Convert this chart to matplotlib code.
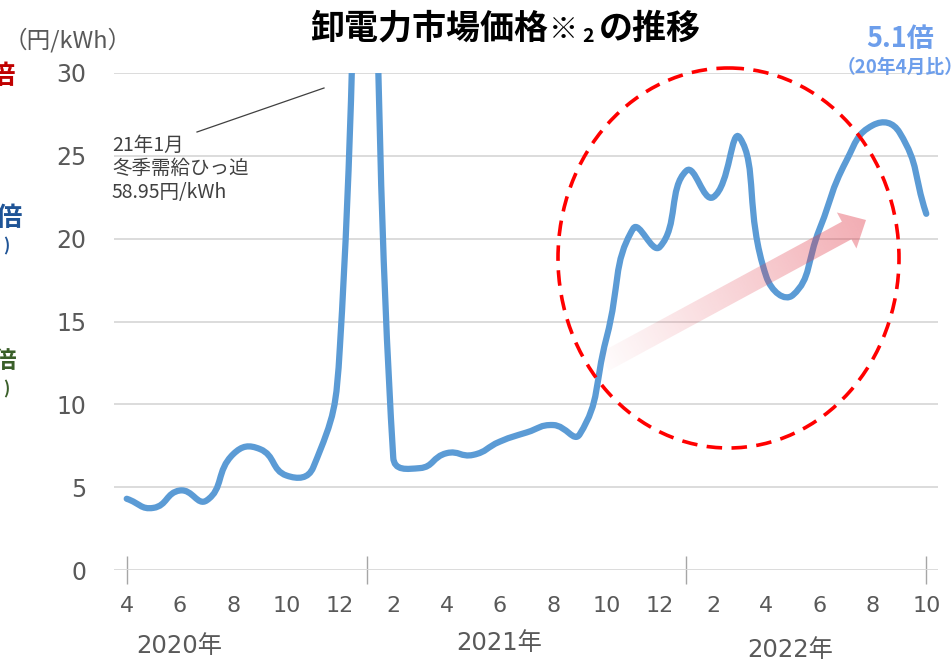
import numpy as np
import matplotlib
matplotlib.use("Agg")
import matplotlib.pyplot as plt
from matplotlib.path import Path
from matplotlib.patches import PathPatch, Ellipse, Polygon

# ---------------- data ----------------
months = [4, 5, 6, 7, 8, 9, 10, 11, 12,
          1, 2, 3, 4, 5, 6, 7, 8, 9, 10, 11, 12,
          1, 2, 3, 4, 5, 6, 7, 8, 9, 10]
prices = [4.3, 3.75, 4.8, 4.2, 7.0, 7.3, 5.7, 6.2, 13.5,
          58.95, 6.8, 6.15, 7.05, 6.95, 7.75, 8.3, 8.75, 8.2, 14.0, 20.6, 19.5,
          24.1, 22.5, 26.1, 17.7, 16.6, 20.6, 24.7, 26.85, 26.4, 21.5]
years = ["2020年", "2021年", "2022年"]
year_start_idx = [0, 9, 21, 30]
y_ticks = [0, 5, 10, 15, 20, 25, 30]

JP = ["Noto Sans CJK JP", "DejaVu Sans"]
NUM = ["DejaVu Sans", "Noto Sans CJK JP"]

W, H = 953, 660
fig = plt.figure(figsize=(W / 100, H / 100), dpi=100)
fig.patch.set_facecolor("white")

ax = fig.add_axes([114 / W, (H - 570) / H, 824 / W, 497 / H])
n = len(prices)
xs = np.arange(n)
ax.set_xlim(-0.477, 30.44)
ax.set_ylim(0, 30)
for s in ax.spines.values():
    s.set_visible(False)
ax.set_yticks(y_ticks)
ax.set_yticklabels([str(v) for v in y_ticks], fontsize=17, color="#595959", family=NUM)
ax.tick_params(axis="y", length=0, pad=20)
ax.yaxis.grid(True, color="#d9d9d9", lw=1.3)
ax.set_axisbelow(True)

maj = list(range(0, n, 2))
ax.set_xticks(maj)
ax.set_xticklabels([str(months[i]) for i in maj], fontsize=16, color="#595959", family=NUM)
ax.tick_params(axis="x", which="major", length=0, pad=19)
ax.xaxis.remove_overlapping_locs = False
ax.set_xticks(year_start_idx, minor=True)
ax.tick_params(axis="x", which="minor", length=20, direction="inout", color="#a6a6a6", width=1)


def smooth_path(axis, x, y, t=0.5):
    P = axis.transData.transform(np.column_stack([x, y]))
    m = len(P)
    cin = np.zeros_like(P)
    cout = np.zeros_like(P)
    for i in range(m):
        p0 = P[max(i - 1, 0)]
        p2 = P[min(i + 1, m - 1)]
        d01 = np.hypot(*(P[i] - p0))
        d12 = np.hypot(*(p2 - P[i]))
        tot = d01 + d12
        T = p2 - p0
        cin[i] = P[i] - T * t * d01 / tot
        cout[i] = P[i] + T * t * d12 / tot
    verts = [P[0]]
    codes = [Path.MOVETO]
    for i in range(m - 1):
        verts += [cout[i], cin[i + 1], P[i + 1]]
        codes += [Path.CURVE4] * 3
    verts = axis.transData.inverted().transform(np.array(verts))
    return Path(verts, codes)


line = PathPatch(smooth_path(ax, xs, prices), fill=False, edgecolor="#5B9BD5",
                 lw=4.5, capstyle="round", joinstyle="round", zorder=3)
ax.add_patch(line)

# ---------------- overlay (pixel coords) ----------------
ov = fig.add_axes([0, 0, 1, 1], zorder=5)
ov.set_facecolor("none")
ov.axis("off")

# ellipse
ov.add_patch(Ellipse((728.5, 258), 341, 380, fill=False, ec="#ff0000", lw=2.6,
                     ls=(0, (4.3, 2.6))))

# gradient arrow
tail = np.array([604.0, 362.0])
tip = np.array([866.0, 220.0])
L = np.hypot(*(tip - tail))
u = (tip - tail) / L
nrm = np.array([u[1], -u[0]])
base = tip - u * 22
bw, hw = 10, 20.5
pts = [tail + nrm * bw, base + nrm * bw, base + nrm * hw, tip,
       base - nrm * hw, base - nrm * bw, tail - nrm * bw]
poly = Polygon(pts, closed=True, fc="none", ec="none")
ov.add_patch(poly)
parr = np.array(pts)
x0, x1 = parr[:, 0].min() - 2, parr[:, 0].max() + 2
y0, y1 = parr[:, 1].min() - 2, parr[:, 1].max() + 2
gx = np.linspace(x0, x1, 300)
gy = np.linspace(y0, y1, 200)
GX, GY = np.meshgrid(gx, gy)
tt = np.clip(((GX - tail[0]) * u[0] + (GY - tail[1]) * u[1]) / L, 0, 1)
img = np.zeros(GX.shape + (4,))
img[..., 0] = 225 / 255
img[..., 1] = 60 / 255
img[..., 2] = 75 / 255
img[..., 3] = 0.02 + 0.40 * tt
im = ov.imshow(img, extent=(x0, x1, y1, y0), origin="upper", interpolation="bilinear")
im.set_clip_path(poly)

# annotation for spike
ov.plot([197, 324], [132, 88], color="#404040", lw=0.9)
ov.text(112, 135, "21年1月\n冬季需給ひっ迫\n58.95円/kWh", ha="left", va="top",
        fontsize=14, color="#404040", family=JP, linespacing=1.15)

# title
ov.text(310, 28, "卸電力市場価格", ha="left", va="center",
        fontsize=24.5, fontweight="bold", color="black", family=JP)
ov.text(549, 30, "※", ha="left", va="center",
        fontsize=21, fontweight="bold", color="black", family=JP)
ov.text(582, 37, "2", ha="left", va="center",
        fontsize=14, fontweight="bold", color="black", family=JP)
ov.text(701, 28, "の推移", ha="right", va="center",
        fontsize=24.5, fontweight="bold", color="black", family=JP)

# unit
ov.text(4, 40, "（円/kWh）", ha="left", va="center", fontsize=17,
        color="#595959", family=JP)

# right-hand ratio
ov.text(900, 39, "5.1倍", ha="center", va="center", fontsize=19.5,
        fontweight="bold", color="#6D9EEB", family=JP)
ov.text(900, 67, "（20年4月比）", ha="center", va="center", fontsize=13.5,
        fontweight="bold", color="#6D9EEB", family=JP)

# cut-off labels from neighbouring panel
ov.text(15, 77, "倍", ha="right", va="center", fontsize=19, fontweight="bold",
        color="#C00000", family=JP)
ov.text(22, 219, "倍", ha="right", va="center", fontsize=19, fontweight="bold",
        color="#1F5496", family=JP)
ov.text(9, 246, ")", ha="right", va="center", fontsize=12, fontweight="bold",
        color="#1F5496", family=JP)
ov.text(16, 361, "倍", ha="right", va="center", fontsize=17, fontweight="bold",
        color="#3A5F29", family=JP)
ov.text(9, 389, ")", ha="right", va="center", fontsize=12, fontweight="bold",
        color="#3A5F29", family=JP)

# year labels
for yl, (cx, cy) in zip(years, [(179, 646), (499, 643), (790, 650)]):
    ov.text(cx, cy, yl, ha="center", va="center", fontsize=17.5,
            color="#595959", family=NUM)

ov.set_xlim(0, W)
ov.set_ylim(H, 0)
ov.set_aspect("auto")

fig.savefig("out.png", dpi=100)
